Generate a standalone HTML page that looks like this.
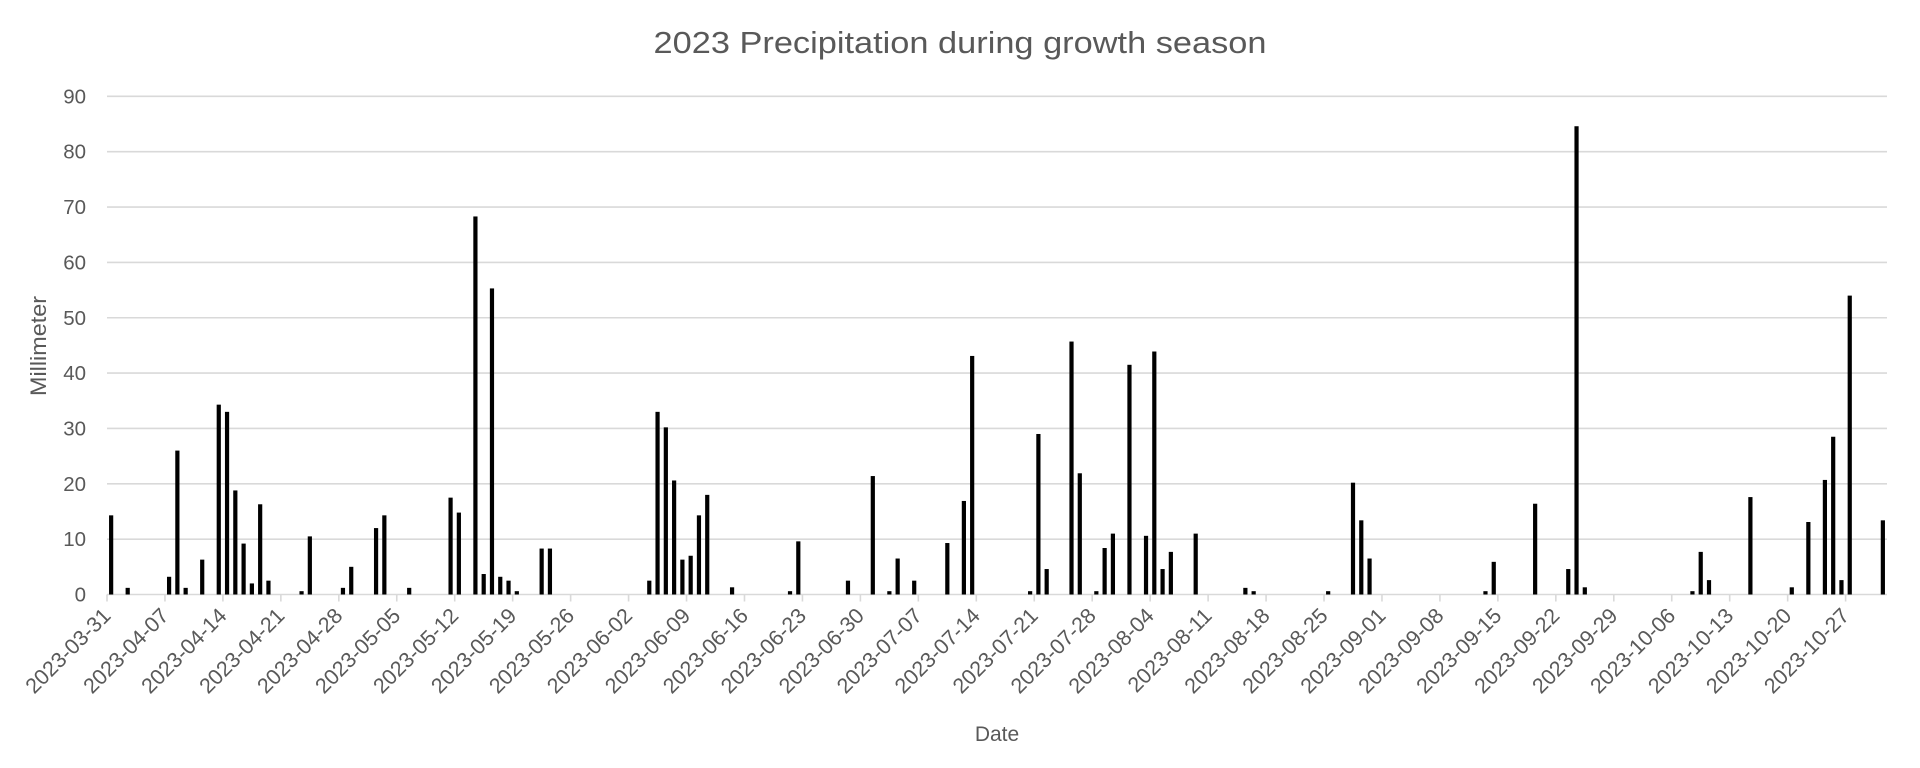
<!DOCTYPE html>
<html><head><meta charset="utf-8"><style>
html,body{margin:0;padding:0;background:#fff;}
svg{display:block;}
text{font-family:"Liberation Sans",sans-serif;fill:#595959;}
</style></head><body>
<svg id="s" width="1920" height="768" viewBox="0 0 1920 768" xmlns="http://www.w3.org/2000/svg">
<text x="960" y="53" font-size="31" text-anchor="middle" textLength="613" lengthAdjust="spacingAndGlyphs">2023 Precipitation during growth season</text>
<g id="grid"></g>
<g id="bars"></g>
<g id="xl"></g>
<text transform="translate(46,346) rotate(-90)" font-size="22" text-anchor="middle" textLength="100" lengthAdjust="spacingAndGlyphs">Millimeter</text>
<text x="997" y="741" font-size="21" text-anchor="middle">Date</text>
</svg>
<script>
var L=107,R=1887,Y0=594.5,PX=55.35,DW=(R-L)/215;
var ns="http://www.w3.org/2000/svg";
function el(t,a,p,tx){var e=document.createElementNS(ns,t);for(var k in a)e.setAttribute(k,a[k]);if(tx!==undefined)e.textContent=tx;document.getElementById(p).appendChild(e);}
for(var i=0;i<=9;i++){var y=Y0-i*PX;
 el("line",{x1:L,x2:R,y1:y,y2:y,stroke:"#d9d9d9","stroke-width":1.6},"grid");
 el("text",{x:86,y:y+7,"font-size":20.5,"text-anchor":"end"},"grid",String(i*10));}
var d0=new Date(Date.UTC(2023,2,31));
for(var k=0;k<=30;k++){var x=L+k*7*DW;
 el("line",{x1:x,x2:x,y1:Y0,y2:Y0+7,stroke:"#d9d9d9","stroke-width":1.6},"grid");
 var d=new Date(d0.getTime()+k*7*86400000);var s=d.toISOString().slice(0,10);
 el("text",{transform:"translate("+(x+5)+",617) rotate(-45)","font-size":21.5,"text-anchor":"end"},"xl",s);}
var data={0:14.3,2:1.2,7:3.2,8:26,9:1.2,11:6.3,13:34.3,14:33,15:18.8,16:9.2,17:2,18:16.3,19:2.5,23:0.6,24:10.5,28:1.2,29:5,32:12,33:14.3,36:1.2,41:17.5,42:14.8,44:68.3,45:3.7,46:55.3,47:3.2,48:2.5,49:0.6,52:8.3,53:8.3,
65:2.5,66:33,67:30.2,68:20.6,69:6.3,70:7,71:14.3,72:18,75:1.3,82:0.6,83:9.6,89:2.5,92:21.4,94:0.6,95:6.5,97:2.5,101:9.3,103:16.9,104:43.1,111:0.6,112:29,113:4.6,116:45.7,117:21.9,119:0.6,120:8.4,121:11,123:41.5,125:10.6,126:43.9,127:4.6,128:7.7,131:11,137:1.2,138:0.6,
147:0.6,150:20.2,151:13.4,152:6.5,166:0.6,167:5.9,172:16.4,176:4.6,177:84.6,178:1.3,191:0.6,192:7.7,193:2.6,198:17.6,203:1.3,205:13.1,207:20.7,208:28.5,209:2.6,210:54,214:13.4};
for(var k in data){var c=L+(+k+0.5)*DW,h=data[k]*PX/10;
 el("rect",{x:c-2.1,y:Y0-h,width:4.2,height:h,fill:"#000"},"bars");}
</script>
</body></html>
